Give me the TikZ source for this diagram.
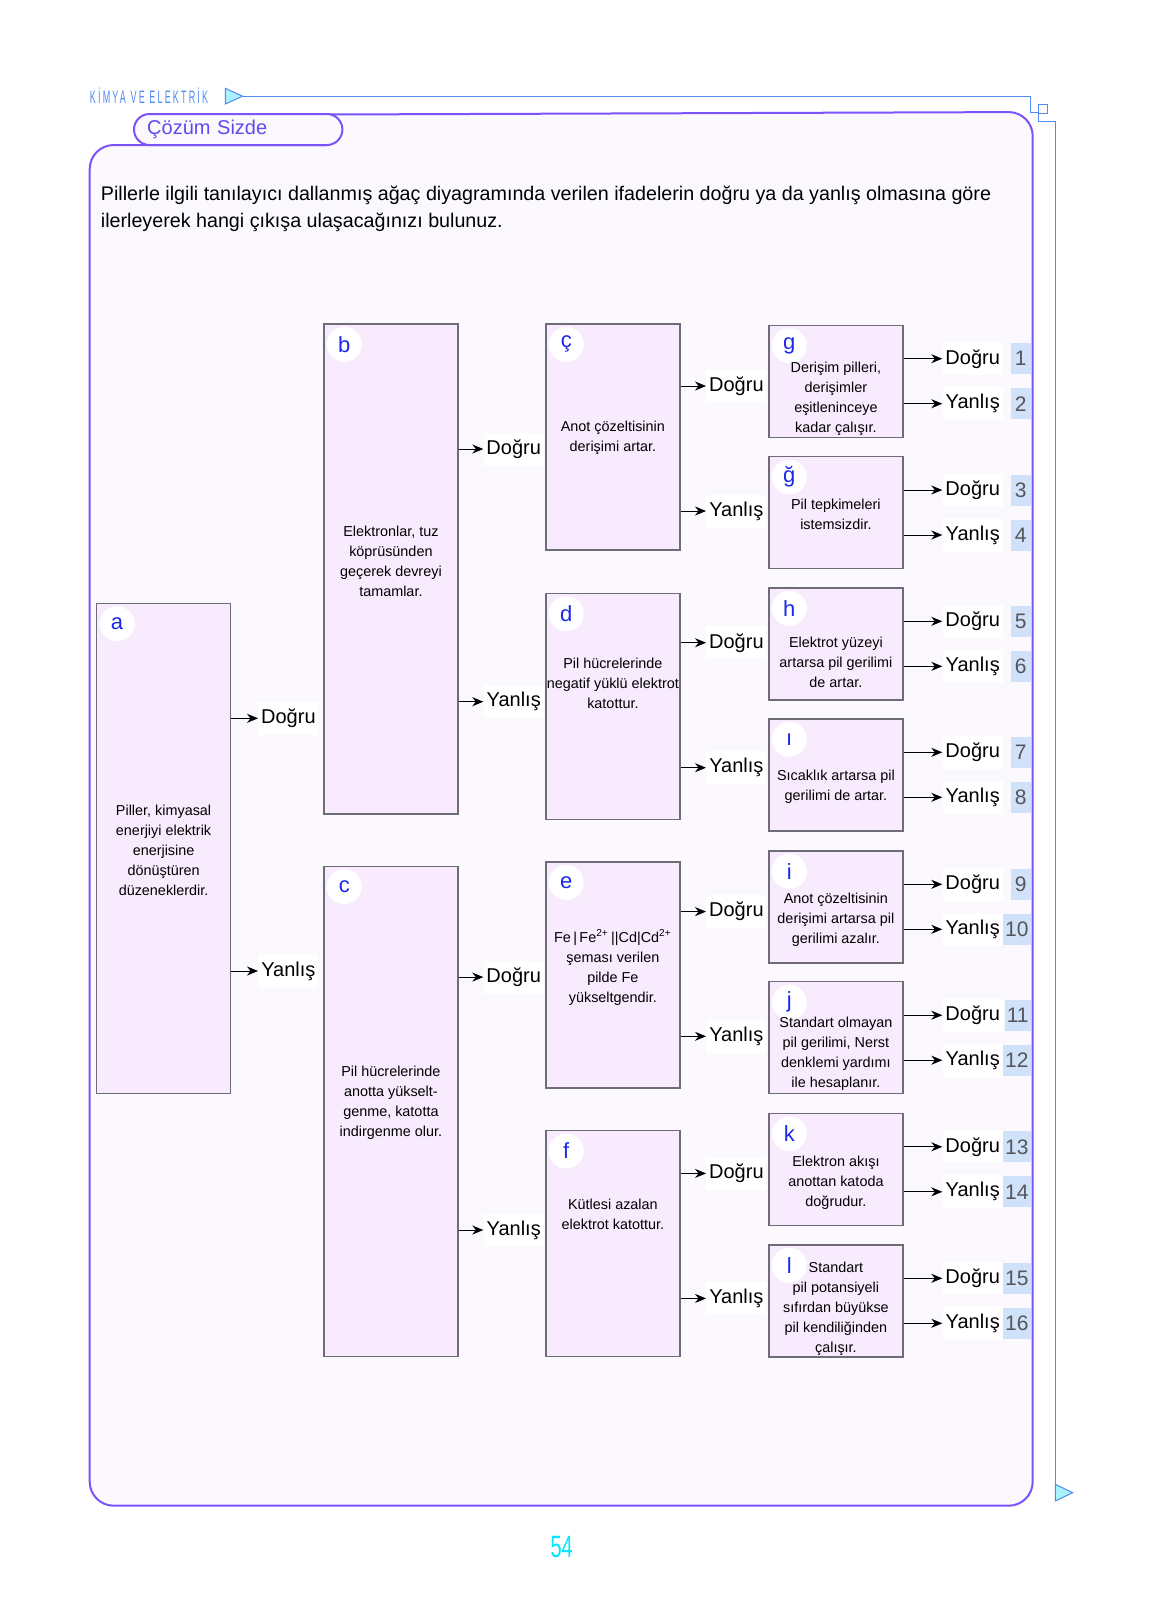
\documentclass[tikz,border=0pt]{standalone}
\usepackage{fontspec}
\setmainfont{Liberation Sans}
\newfontfamily\headfont[FakeStretch=0.5,LetterSpace=12]{Liberation Sans}
\newfontfamily\pagefont[FakeStretch=0.65]{Liberation Sans}
\usetikzlibrary{arrows.meta,positioning,calc}
\definecolor{framepurple}{RGB}{124,82,250}
\definecolor{framefill}{RGB}{251,249,254}
\definecolor{boxfill}{RGB}{248,235,254}
\definecolor{boxgray}{RGB}{110,108,118}
\definecolor{badgeblue}{RGB}{25,40,235}
\definecolor{headblue}{RGB}{80,140,240}
\definecolor{tabpurple}{RGB}{100,72,238}
\definecolor{trifill}{RGB}{170,240,255}
\definecolor{numblue}{RGB}{208,225,250}
\definecolor{numgray}{RGB}{85,85,90}
\definecolor{pagecyan}{RGB}{0,232,255}

\begin{document}
\begin{tikzpicture}[x=0.5pt,y=-0.5pt,>=Stealth]
  \tikzset{stmt/.style={draw=boxgray,fill=boxfill,line width=0.6pt,minimum width=67pt,anchor=north west,inner sep=0pt}}
  \tikzset{tall/.style={stmt,minimum height=245pt}}
  \tikzset{mid/.style={stmt,minimum height=113pt}}
  \tikzset{small/.style={stmt,minimum height=56pt}}
  \tikzset{stxt/.style={align=center,inner sep=0pt,font=\fontsize{7.2}{10}\selectfont}}
  \tikzset{badge/.style={circle,fill=white,minimum size=17.5pt,inner sep=0pt,text=badgeblue,font=\fontsize{11}{11}\selectfont}}
  \tikzset{ans/.style={fill=white,anchor=west,minimum width=30pt,minimum height=16.5pt,inner sep=0pt,font=\fontsize{10}{10}\selectfont}}
  \tikzset{num/.style={fill=numblue,anchor=east,minimum width=10pt,minimum height=15.5pt,inner xsep=1pt,inner ysep=0pt,text=numgray,font=\fontsize{10.5}{10.5}\selectfont}}
  \tikzset{link/.style={-{Stealth[length=5.5pt,width=4.5pt]},line width=0.45pt}}
  \tikzset{deco/.style={draw=headblue,line width=0.5pt}}
  \fill[white] (0,0) rectangle (1152,1624);
  \useasboundingbox (0,0) rectangle (1152,1624);
  % page frame and tab
  \filldraw[draw=framepurple,fill=framefill,line width=1pt,rounded corners=12pt] (326,145) -- (89.7,145) -- (89.7,1505.7) -- (1032.7,1505.7) -- (1032.7,112) -- (326,114.5);
  \node[draw=framepurple,fill=framefill,line width=1pt,rounded corners=7.75pt,anchor=west,text width=91pt,inner xsep=6.6pt,inner ysep=0pt,minimum height=15.5pt,align=left,text=tabpurple,font=\fontsize{10}{10}\selectfont] (tab) at (133,129.5) {Çözüm Sizde};
  \node[anchor=west,inner sep=0pt,text=headblue,font=\headfont\fontsize{9}{9}\selectfont] (title) at (89.6,96) {KİMYA VE ELEKTRİK};
  \draw[deco,fill=trifill] (225.4,88.3) -- (225.4,104) -- (242.6,96.2) -- cycle;
  \draw[deco] (242.6,96.2) -- (1030.3,96.2) -- (1030.3,112.7) -- (1038.3,112.7);
  \draw[deco] (1038.3,104.3) rectangle (1047.3,113);
  \draw[deco] (1038.3,113) -- (1038.3,121.3) -- (1055.3,121.3) -- (1055.3,1484.3);
  \draw[deco,fill=trifill] (1055.3,1484.3) -- (1055.3,1501) -- (1072.7,1492.7) -- cycle;
  \node[anchor=north west,inner sep=0pt,align=left,font=\fontsize{9.85}{13.5}\selectfont] (task) at (100.5,185.4) {Pillerle ilgili tanılayıcı dallanmış ağaç diyagramında verilen ifadelerin doğru ya da yanlış olmasına göre\\ilerleyerek hangi çıkışa ulaşacağınızı bulunuz.};
  % statement boxes
  \node[tall] (a) at (96,602.7) {};
  \node[tall] (b) at (323.3,323.3) {};
  \node[tall] (c) at (323.3,865.7) {};
  \node[mid] (cc) at (545.3,323.3) {};
  \node[mid] (d) at (545.3,592.7) {};
  \node[mid] (e) at (545.3,861.4) {};
  \node[mid] (f) at (545.3,1130) {};
  \node[small] (g) at (768.3,324.7) {};
  \node[small] (gg) at (768.3,456) {};
  \node[small] (h) at (768.3,587.3) {};
  \node[small] (ii) at (768.3,718.3) {};
  \node[small] (i) at (768.3,850.3) {};
  \node[small] (j) at (768.3,981.2) {};
  \node[small] (k) at (768.3,1112.8) {};
  \node[small] (l) at (768.3,1244.3) {};
  \foreach \p/\t in {a/a,b/b,c/c,cc/ç,d/d,e/e,f/f,g/g,gg/ğ,h/h,ii/ı,i/i,j/j,k/k,l/l}
    \node[badge] (\p-bdg) at ($(\p.north west)+(21,21)$) {\t};
  \node[stxt] (a-txt) at ($(a.center)+(0,2)$) {Piller, kimyasal\\enerjiyi elektrik\\enerjisine\\dönüştüren\\düzeneklerdir.};
  \node[stxt] (b-txt) at ($(b.center)+(0,-8)$) {Elektronlar, tuz\\köprüsünden\\geçerek devreyi\\tamamlar.};
  \node[stxt] (c-txt) at ($(c.center)+(0,-9)$) {Pil hücrelerinde\\anotta yükselt-\\genme, katotta\\indirgenme olur.};
  \node[stxt] (cc-txt) at ($(cc.center)+(0,1)$) {Anot çözeltisinin\\derişimi artar.};
  \node[stxt] (d-txt) at ($(d.center)+(0,-23)$) {Pil hücrelerinde\\negatif yüklü elektrot\\katottur.};
  \node[stxt] (e-txt) at ($(e.center)+(0,-8)$) {Fe\,|\,Fe\textsuperscript{2+}\,||Cd|Cd\textsuperscript{2+}\\şeması verilen\\pilde Fe\\yükseltgendir.};
  \node[stxt] (f-txt) at ($(f.center)+(0,-29)$) {Kütlesi azalan\\elektrot katottur.};
  \node[stxt] (g-txt) at ($(g.center)+(0,17.6)$) {Derişim pilleri,\\derişimler\\eşitleninceye\\kadar çalışır.};
  \node[stxt] (gg-txt) at ($(gg.center)+(0,2)$) {Pil tepkimeleri\\istemsizdir.};
  \node[stxt] (h-txt) at ($(h.center)+(0,18.4)$) {Elektrot yüzeyi\\artarsa pil gerilimi\\de artar.};
  \node[stxt] (ii-txt) at ($(ii.center)+(0,11.7)$) {Sıcaklık artarsa pil\\gerilimi de artar.};
  \node[stxt] (i-txt) at ($(i.center)+(0,13)$) {Anot çözeltisinin\\derişimi artarsa pil\\gerilimi azalır.};
  \node[stxt] (j-txt) at ($(j.center)+(0,16)$) {Standart olmayan\\pil gerilimi, Nerst\\denklemi yardımı\\ile hesaplanır.};
  \node[stxt] (k-txt) at ($(k.center)+(0,13)$) {Elektron akışı\\anottan katoda\\doğrudur.};
  \node[stxt] (l-txt) at ($(l.center)+(0,7.4)$) {Standart\\pil potansiyeli\\sıfırdan büyükse\\pil kendiliğinden\\çalışır.};
  % answers
  \node[ans] (a-d) at (258,718.3) {Doğru};
  \node[ans] (a-y) at (258,971) {Yanlış};
  \node[ans] (b-d) at (483.3,449) {Doğru};
  \node[ans] (b-y) at (483.3,701.7) {Yanlış};
  \node[ans] (c-d) at (483.3,977.1) {Doğru};
  \node[ans] (c-y) at (483.3,1230) {Yanlış};
  \node[ans] (cc-d) at (706,386) {Doğru};
  \node[ans] (cc-y) at (706,511) {Yanlış};
  \node[ans] (d-d) at (706,642.7) {Doğru};
  \node[ans] (d-y) at (706,767.7) {Yanlış};
  \node[ans] (e-d) at (706,911.6) {Doğru};
  \node[ans] (e-y) at (706,1036.3) {Yanlış};
  \node[ans] (f-d) at (706,1173.4) {Doğru};
  \node[ans] (f-y) at (706,1298.4) {Yanlış};
  \foreach \p in {a,b,c,cc,d,e,f} {
    \draw[link] (\p.east |- \p-d) -- (\p-d);
    \draw[link] (\p.east |- \p-y) -- (\p-y);
  }
  \foreach \p/\n in {g/1,gg/3,h/5,ii/7,i/9,j/11,k/13,l/15} {
    \pgfmathtruncatemacro\m{\n+1}
    \node[ans] (\p-d) at ($(\p.north west)+(174,34)$) {Doğru};
    \node[ans] (\p-y) at ($(\p.north west)+(174,79)$) {Yanlış};
    \node[num] (n\n) at ($(\p.north west)+(262.7,34)$) {\n};
    \node[num] (n\m) at ($(\p.north west)+(262.7,79)$) {\m};
    \draw[link] (\p.east |- \p-d) -- (\p-d);
    \draw[link] (\p.east |- \p-y) -- (\p-y);
  }
  \node[text=pagecyan,font=\pagefont\fontsize{15.4}{15.4}\selectfont] (page) at (561.7,1547.3) {54};
\end{tikzpicture}
\end{document}
